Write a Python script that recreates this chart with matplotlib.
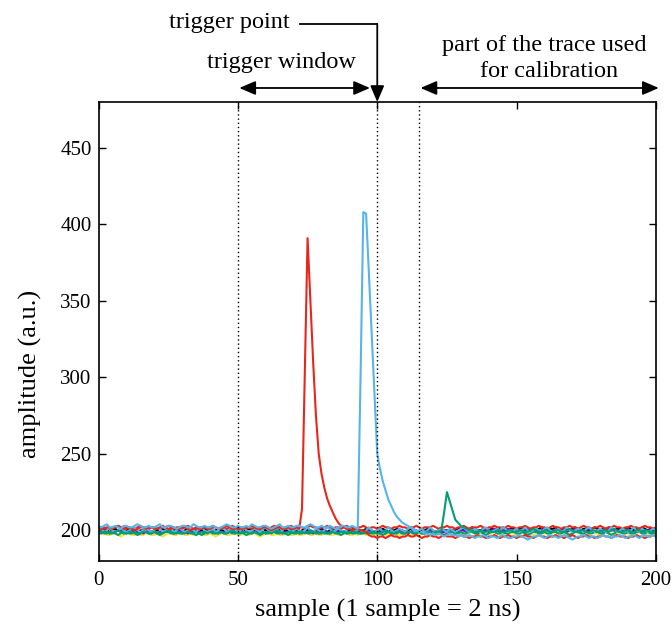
import numpy as np
import matplotlib
matplotlib.use("Agg")
import matplotlib.pyplot as plt
from matplotlib.lines import Line2D

plt.rcParams['font.family'] = ['Liberation Serif', 'DejaVu Serif']

# ---- digitiser traces (amplitude per sample) ----
red_pulse = [
    202, 201, 201, 202, 202, 201, 202, 203, 202, 201,
    201, 202, 201, 200, 201, 202, 202, 201, 202, 202,
    201, 201, 202, 203, 202, 201, 201, 202, 201, 201,
    202, 202, 201, 200, 201, 202, 201, 201, 202, 202,
    201, 202, 202, 201, 201, 202, 203, 202, 201, 201,
    202, 201, 201, 202, 202, 201, 202, 201, 201, 202,
    202, 201, 200, 201, 202, 202, 201, 201, 202, 201,
    201, 202, 201, 214, 302, 391, 350, 310, 275, 250,
    237, 228, 221, 216, 212, 208, 205, 203, 202, 201,
    201, 200, 201, 201, 200, 200, 199, 197, 196, 196,
    195, 196, 196, 195, 196, 197, 196, 196, 195, 196,
    196, 197, 196, 196, 197, 196, 195, 196, 196, 197,
    196, 196, 195, 196, 197, 196, 196, 196, 195, 196,
    197, 196, 196, 195, 196, 196, 197, 196, 196, 195,
    196, 196, 197, 196, 195, 196, 196, 197, 196, 196,
    195, 196, 196, 197, 196, 196, 195, 196, 197, 196,
    196, 195, 196, 196, 197, 196, 196, 195, 196, 196,
    197, 196, 195, 196, 196, 197, 196, 196, 195, 196,
    196, 197, 196, 196, 195, 196, 197, 196, 196, 196,
    195, 196, 196, 197, 196, 196, 195, 196, 196, 197,
    196]

blue_pulse = [
    203, 202, 203, 204, 202, 202, 203, 202, 201, 203,
    203, 202, 202, 203, 204, 203, 202, 202, 203, 202,
    202, 203, 204, 202, 202, 203, 203, 202, 201, 202,
    203, 203, 202, 202, 204, 203, 202, 202, 203, 202,
    202, 203, 202, 201, 202, 203, 204, 203, 202, 202,
    203, 202, 202, 203, 202, 204, 203, 202, 202, 203,
    203, 202, 201, 202, 203, 204, 202, 202, 203, 202,
    202, 203, 203, 202, 202, 203, 204, 203, 202, 202,
    203, 202, 202, 203, 202, 201, 202, 203, 203, 202,
    202, 203, 202, 201, 300, 408, 407, 368, 328, 289,
    250, 240, 232, 226, 220, 216, 212, 209, 207, 205,
    204, 203, 202, 201, 200, 199, 199, 198, 198, 197,
    198, 197, 198, 197, 196, 197, 198, 197, 197, 196,
    197, 196, 196, 197, 196, 195, 196, 196, 197, 196,
    195, 196, 196, 195, 196, 197, 196, 195, 195, 196,
    196, 197, 196, 195, 194, 195, 196, 196, 197, 196,
    195, 196, 197, 196, 196, 195, 196, 197, 196, 195,
    194, 195, 196, 196, 197, 196, 195, 196, 196, 195,
    196, 197, 196, 196, 195, 196, 196, 197, 196, 195,
    196, 196, 197, 196, 195, 196, 197, 196, 196, 197,
    196]

green_pulse = [
    199, 198, 199, 199, 198, 198, 199, 200, 199, 198,
    198, 199, 199, 198, 197, 198, 199, 199, 198, 198,
    199, 199, 198, 198, 199, 200, 199, 198, 198, 199,
    198, 198, 199, 199, 198, 197, 198, 199, 199, 198,
    199, 199, 198, 198, 199, 198, 198, 199, 200, 199,
    198, 198, 199, 199, 198, 198, 199, 198, 197, 198,
    199, 199, 198, 199, 200, 199, 198, 198, 199, 199,
    198, 198, 199, 199, 198, 199, 200, 199, 198, 198,
    199, 198, 198, 199, 199, 198, 198, 199, 199, 198,
    198, 199, 199, 198, 198, 199, 198, 198, 199, 199,
    198, 198, 199, 200, 199, 198, 198, 199, 199, 198,
    198, 199, 199, 198, 198, 199, 198, 198, 199, 199,
    198, 199, 199, 200, 212, 225, 219, 213, 207, 205,
    203, 202, 201, 200, 200, 199, 199, 200, 199, 199,
    200, 199, 199, 200, 200, 199, 199, 200, 200, 199,
    199, 200, 200, 199, 199, 200, 201, 200, 199, 199,
    200, 200, 199, 199, 200, 200, 199, 199, 200, 201,
    200, 199, 199, 200, 200, 199, 199, 200, 200, 199,
    199, 200, 200, 199, 200, 201, 200, 199, 199, 200,
    200, 199, 199, 200, 200, 199, 200, 200, 199, 199,
    200]

black_trace = [
    200, 200, 201, 200, 199, 200, 201, 200, 200, 199,
    200, 201, 200, 200, 199, 200, 200, 201, 200, 199,
    200, 200, 201, 201, 200, 199, 200, 200, 201, 200,
    199, 200, 201, 200, 200, 200, 199, 200, 201, 200,
    200, 199, 200, 201, 200, 200, 199, 200, 200, 201,
    200, 200, 199, 200, 201, 200, 200, 199, 200, 201,
    200, 199, 200, 200, 201, 200, 199, 200, 200, 201,
    200, 200, 199, 200, 201, 200, 200, 199, 200, 200,
    201, 200, 199, 200, 200, 201, 200, 200, 199, 200,
    200, 201, 200, 199, 200, 200, 201, 200, 200, 199,
    200, 200, 201, 200, 199, 200, 200, 201, 200, 200,
    199, 200, 201, 200, 200, 199, 200, 200, 201, 200,
    200, 199, 200, 201, 200, 200, 199, 200, 200, 201,
    201, 200, 200, 201, 202, 201, 200, 200, 201, 201,
    200, 201, 201, 200, 201, 202, 201, 200, 201, 201,
    200, 201, 202, 201, 200, 201, 201, 200, 201, 202,
    201, 200, 201, 201, 202, 201, 200, 201, 201, 200,
    201, 202, 201, 200, 201, 201, 200, 201, 202, 201,
    200, 201, 201, 202, 201, 200, 201, 201, 200, 201,
    202, 201, 200, 201, 201, 202, 201, 200, 201, 201,
    201]

yellow_trace = [
    197, 198, 198, 197, 197, 198, 198, 197, 196, 197,
    198, 198, 197, 197, 198, 197, 197, 198, 198, 197,
    197, 198, 197, 196, 197, 198, 198, 197, 197, 198,
    198, 197, 197, 198, 197, 197, 198, 198, 197, 197,
    198, 197, 196, 197, 198, 198, 197, 197, 198, 198,
    197, 197, 198, 197, 197, 198, 198, 197, 196, 197,
    198, 198, 197, 197, 198, 197, 197, 198, 198, 197,
    197, 198, 197, 197, 198, 198, 197, 197, 198, 197,
    197, 198, 198, 197, 197, 198, 197, 197, 198, 198,
    197, 197, 198, 197, 198, 198, 197, 197, 198, 197,
    197, 198, 198, 197, 197, 198, 198, 197, 197, 198,
    198, 197, 197, 198, 198, 197, 198, 198, 197, 197,
    198, 198, 197, 198, 199, 198, 198, 197, 198, 198,
    198, 197, 198, 198, 199, 198, 197, 198, 198, 197,
    198, 198, 199, 198, 197, 198, 198, 199, 198, 198,
    197, 198, 198, 199, 198, 198, 197, 198, 198, 199,
    198, 198, 197, 198, 199, 198, 198, 198, 197, 198,
    198, 199, 198, 198, 197, 198, 198, 199, 198, 198,
    197, 198, 199, 198, 198, 197, 198, 198, 199, 198,
    198, 197, 198, 198, 199, 198, 198, 197, 198, 198,
    198]

purple_trace = [
    199, 199, 200, 199, 198, 199, 199, 200, 199, 199,
    198, 199, 200, 199, 199, 199, 198, 199, 200, 199,
    199, 198, 199, 199, 200, 199, 199, 198, 199, 200,
    199, 199, 198, 199, 200, 199, 199, 199, 198, 199,
    200, 199, 199, 198, 199, 199, 200, 199, 199, 198,
    199, 200, 199, 199, 199, 198, 199, 200, 199, 199,
    198, 199, 199, 200, 199, 199, 198, 199, 199, 200,
    199, 199, 198, 199, 200, 199, 199, 198, 199, 199,
    200, 199, 199, 198, 199, 200, 199, 199, 199, 198,
    199, 200, 199, 199, 198, 199, 199, 200, 199, 199,
    198, 199, 200, 199, 199, 198, 199, 199, 200, 199,
    199, 198, 199, 200, 199, 199, 199, 198, 199, 200,
    199, 199, 198, 199, 199, 200, 199, 199, 198, 199,
    200, 200, 199, 199, 200, 201, 200, 199, 200, 200,
    199, 200, 201, 200, 199, 200, 200, 201, 200, 199,
    200, 200, 199, 200, 201, 200, 200, 199, 200, 200,
    201, 200, 199, 200, 200, 201, 200, 200, 199, 200,
    200, 201, 200, 199, 200, 200, 201, 200, 199, 200,
    200, 199, 200, 201, 200, 200, 199, 200, 200, 201,
    200, 200, 199, 200, 201, 200, 199, 200, 200, 201,
    200]

red_trace = [
    201, 202, 202, 201, 201, 202, 202, 203, 202, 201,
    202, 202, 201, 201, 202, 203, 202, 202, 201, 202,
    202, 201, 201, 202, 202, 203, 202, 201, 202, 202,
    201, 202, 203, 202, 201, 201, 202, 202, 202, 201,
    202, 203, 202, 201, 202, 202, 201, 202, 203, 202,
    201, 202, 202, 201, 202, 203, 202, 201, 202, 202,
    202, 201, 202, 203, 202, 202, 201, 202, 202, 203,
    202, 201, 202, 202, 201, 202, 203, 202, 202, 201,
    202, 202, 203, 202, 201, 202, 202, 201, 202, 203,
    202, 202, 201, 202, 202, 203, 202, 201, 202, 202,
    201, 202, 203, 202, 202, 201, 202, 202, 203, 202,
    202, 201, 202, 202, 203, 202, 201, 202, 202, 202,
    203, 202, 201, 202, 202, 203, 202, 202, 201, 202,
    202, 203, 202, 201, 202, 202, 202, 203, 202, 201,
    202, 202, 203, 202, 202, 201, 202, 203, 202, 202,
    201, 202, 202, 203, 202, 201, 202, 202, 203, 202,
    202, 201, 202, 203, 202, 202, 201, 202, 202, 203,
    202, 202, 201, 202, 203, 202, 202, 201, 202, 202,
    203, 202, 201, 202, 202, 203, 202, 202, 201, 202,
    202, 203, 202, 202, 201, 202, 203, 202, 202, 201,
    202]

blue_trace = [
    200, 201, 199, 200, 202, 200, 199, 200, 201, 200,
    199, 200, 201, 202, 200, 199, 200, 201, 200, 199,
    200, 202, 201, 199, 200, 200, 201, 199, 200, 202,
    200, 199, 200, 201, 200, 199, 201, 202, 200, 199,
    200, 201, 199, 200, 202, 201, 199, 200, 200, 201,
    199, 200, 202, 200, 199, 200, 201, 200, 199, 201,
    202, 200, 199, 200, 201, 199, 200, 202, 201, 199,
    200, 201, 200, 199, 200, 202, 200, 199, 201, 200,
    199, 200, 202, 201, 199, 200, 201, 200, 199, 200,
    202, 200, 199, 201, 200, 199, 200, 202, 200, 199,
    200, 201, 199, 200, 202, 200, 199, 200, 201, 200,
    199, 201, 202, 200, 199, 200, 201, 199, 200, 202,
    200, 199, 200, 201, 200, 199, 201, 200, 199, 200,
    201, 202, 200, 199, 200, 201, 200, 199, 201, 202,
    200, 199, 200, 201, 200, 202, 201, 199, 200, 200,
    201, 199, 200, 202, 200, 199, 200, 201, 200, 199,
    201, 202, 200, 199, 200, 201, 199, 200, 202, 200,
    199, 200, 201, 200, 199, 201, 202, 200, 199, 200,
    201, 200, 199, 200, 202, 201, 199, 200, 201, 200,
    199, 200, 202, 200, 199, 201, 200, 199, 200, 201,
    200]

green_trace = [
    198, 199, 198, 198, 199, 199, 198, 197, 198, 199,
    199, 198, 198, 199, 198, 198, 199, 199, 198, 198,
    199, 198, 197, 198, 199, 199, 198, 198, 199, 198,
    198, 199, 199, 198, 198, 199, 198, 197, 198, 199,
    199, 198, 198, 199, 199, 198, 198, 199, 198, 198,
    199, 199, 198, 197, 198, 199, 199, 198, 198, 199,
    198, 198, 199, 199, 198, 198, 199, 198, 197, 198,
    199, 199, 198, 198, 199, 198, 198, 199, 199, 198,
    198, 199, 198, 198, 199, 199, 198, 197, 198, 199,
    199, 198, 198, 199, 198, 198, 199, 199, 198, 198,
    199, 198, 197, 198, 199, 199, 198, 198, 199, 198,
    198, 199, 199, 198, 198, 199, 198, 198, 199, 199,
    198, 198, 199, 198, 197, 198, 199, 199, 198, 198,
    199, 198, 198, 199, 199, 198, 198, 199, 198, 197,
    198, 199, 199, 198, 198, 199, 198, 198, 199, 199,
    198, 198, 199, 198, 197, 198, 199, 199, 198, 198,
    199, 198, 198, 199, 199, 198, 198, 199, 198, 197,
    198, 199, 199, 198, 198, 199, 198, 198, 199, 199,
    198, 198, 199, 198, 197, 198, 199, 199, 198, 198,
    199, 198, 198, 199, 199, 198, 198, 199, 198, 198,
    199]

# drawing order (back to front) and colours
traces = [black_trace, yellow_trace, purple_trace, green_trace, red_trace,
          blue_trace, green_pulse, red_pulse, blue_pulse]
colors = ['#000000', '#f0e442', '#8e00d8', '#009e73', '#e8261c',
          '#56b4e9', '#009e73', '#e8261c', '#56b4e9']

# marker positions (samples)
window_start = 50
trigger_sample = 100
calib_start = 115
n_samples = 200

xticks = [0, 50, 100, 150, 200]
yticks = [200, 250, 300, 350, 400, 450]

fig = plt.figure(figsize=(6.72, 6.28), dpi=100)
ax = fig.add_axes([0.1466, 0.1067, 0.8296, 0.7309])

for tr, c in zip(traces, colors):
    ax.plot(np.arange(len(tr)), tr, color=c, lw=1.5, solid_joinstyle='round')

for xv in (window_start, trigger_sample, calib_start):
    ax.axvline(xv, color='black', ls=(0, (1, 2)), lw=1.0, zorder=5)

ax.set_xlim(0, n_samples)
ax.set_ylim(180, 480)
ax.set_xticks(xticks)
ax.set_yticks(yticks)
ax.tick_params(direction='in', top=True, right=True, length=5, width=1,
               labelsize=15)
ax.tick_params(axis='x', pad=7)
ax.tick_params(axis='y', pad=5)
for sp in ax.spines.values():
    sp.set_linewidth(1.2)

fig.text(388 / 672, 1 - 610 / 628, 'sample (1 sample = 2 ns)', ha='center',
         va='center', fontsize=19)
fig.text(30 / 672, 1 - 374 / 628, 'amplitude (a.u.)', ha='center',
         va='center', rotation=90, fontsize=19)

# annotations above the axes (x in data, y in axes fraction)
tr_x = ax.get_xaxis_transform()
arrow_y = 1.0305
head = dict(arrowstyle='<|-|>,head_length=0.7,head_width=0.3',
            color='black', lw=1.3, shrinkA=0, shrinkB=0, mutation_scale=14)
ax.annotate('', xy=(window_start + 0.5, arrow_y), xycoords=tr_x,
            xytext=(trigger_sample - 2.6, arrow_y), textcoords=tr_x,
            arrowprops=head, annotation_clip=False)
ax.annotate('', xy=(calib_start + 0.5, arrow_y), xycoords=tr_x,
            xytext=(n_samples + 1, arrow_y), textcoords=tr_x,
            arrowprops=head, annotation_clip=False)

point_y = 1.170
ax.add_line(Line2D([72.2, trigger_sample], [point_y, point_y], transform=tr_x,
                   color='black', lw=1.3, clip_on=False))
ax.annotate('', xy=(trigger_sample, 1.0), xycoords=tr_x,
            xytext=(trigger_sample, point_y), textcoords=tr_x,
            arrowprops=dict(arrowstyle='-|>,head_length=0.7,head_width=0.3',
                            color='black', lw=1.3, shrinkA=0, shrinkB=0,
                            mutation_scale=14),
            annotation_clip=False)

ax.text(68.7, 1.174, 'trigger point', transform=tr_x, ha='right',
        va='center', fontsize=17.5)
ax.text(65.5, 1.085, 'trigger window', transform=tr_x, ha='center',
        va='center', fontsize=17.5)
ax.text(160.0, 1.124, 'part of the trace used', transform=tr_x, ha='center',
        va='center', fontsize=17.5)
ax.text(161.6, 1.0675, 'for calibration', transform=tr_x, ha='center',
        va='center', fontsize=17.5)

fig.savefig('out.png', dpi=100)
